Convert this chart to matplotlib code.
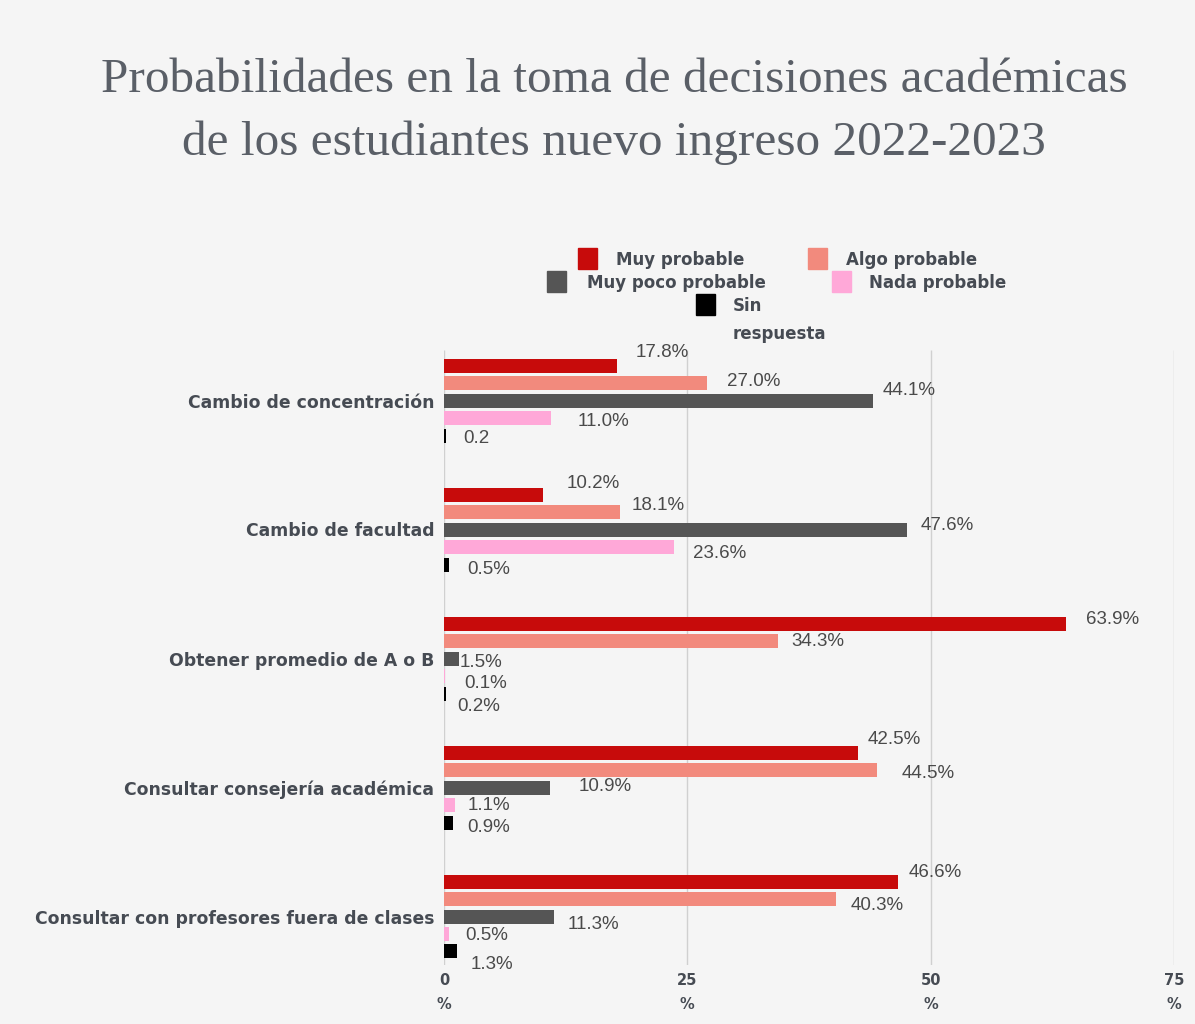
import matplotlib
matplotlib.use("Agg")
import matplotlib.pyplot as plt
import numpy as np
from matplotlib.patches import Rectangle
from matplotlib import font_manager

categories = [
    "Cambio de concentración",
    "Cambio de facultad",
    "Obtener promedio de A o B",
    "Consultar consejería académica",
    "Consultar con profesores fuera de clases",
]
series_names = ["Muy probable", "Algo probable", "Muy poco probable", "Nada probable", "Sin respuesta"]
muy_probable = [17.8, 10.2, 63.9, 42.5, 46.6]
algo_probable = [27.0, 18.1, 34.3, 44.5, 40.3]
muy_poco_probable = [44.1, 47.6, 1.5, 10.9, 11.3]
nada_probable = [11.0, 23.6, 0.1, 1.1, 0.5]
sin_respuesta = [0.2, 0.5, 0.2, 0.9, 1.3]
label_texts = [
    ["17.8%", "10.2%", "63.9%", "42.5%", "46.6%"],
    ["27.0%", "18.1%", "34.3%", "44.5%", "40.3%"],
    ["44.1%", "47.6%", "1.5%", "10.9%", "11.3%"],
    ["11.0%", "23.6%", "0.1%", "1.1%", "0.5%"],
    ["0.2", "0.5%", "0.2%", "0.9%", "1.3%"],
]
x_ticks = [0, 25, 50, 75]
x_tick_labels = ["0\n%", "25\n%", "50\n%", "75\n%"]

# label placement offsets (pixels, relative to bar end / bar centre) - layout only
label_dx = [
    [18, 23, 20, 10, 11],
    [20, 11, 13, 24, 14],
    [9, 13, 1, 29, 14],
    [27, 19, 19, 13, 16],
    [17, 18, 11, 14, 14],
]
label_dy = [
    [-13, -11, -4, -13, -9],
    [-2, -6, 1, 4, 7],
    [-10, -4, 4, -1, 8],
    [4, 6, 8, 0, 1],
    [3, 5, 13, 5, 13],
]

colors = ["#c70b0b", "#f28a7d", "#555555", "#ffa8d8", "#000000"]
bg = "#f5f5f5"
text_col = "#464b53"

installed = {f.name for f in font_manager.fontManager.ttflist}
label_family = "Liberation Sans Narrow" if "Liberation Sans Narrow" in installed else "Liberation Sans"
label_size = 15.5 if label_family == "Liberation Sans Narrow" else 13.5

W, H = 1195, 1024
fig = plt.figure(figsize=(W / 100, H / 100), dpi=100, facecolor=bg)

left, right, top, bottom = 444, 1174, 336, 965
ax = fig.add_axes([left / W, 1 - bottom / H, (right - left) / W, (bottom - top) / H])
ax.set_facecolor(bg)

series = [muy_probable, algo_probable, muy_poco_probable, nada_probable, sin_respuesta]
n_cat = len(categories)
group_px = 129.0
bar_step = 17.5 / group_px
bar_h = 14.0 / group_px
y_centers = np.arange(n_cat)
for si, vals in enumerate(series):
    ys = y_centers + (si - 2) * bar_step
    ax.barh(ys, vals, height=bar_h, color=colors[si], zorder=3)
    for ci, (v, y) in enumerate(zip(vals, ys)):
        ax.annotate(label_texts[si][ci], xy=(v, y),
                    xytext=(label_dx[si][ci] * 0.72, -label_dy[si][ci] * 0.72),
                    textcoords="offset points",
                    ha="left", va="center", fontsize=label_size, color="#4a4a4a",
                    family=label_family, zorder=4)

ax.set_xlim(0, 75)
ax.set_ylim(-0.5 + (bottom - top) / group_px, -0.5)
ax.set_yticks(y_centers)
ax.set_yticklabels(categories, fontsize=12.4, fontweight="bold", color=text_col)
ax.set_xticks(x_ticks)
ax.set_xticklabels(x_tick_labels, fontsize=10.5, fontweight="bold", color=text_col, linespacing=1.7)
ax.tick_params(axis="y", length=0, pad=7)
ax.tick_params(axis="x", length=0, pad=6)
grid_top = (bottom - 350) / (bottom - top)
ax.vlines(x_ticks, 0, grid_top, transform=ax.get_xaxis_transform(),
          color="#d0d0d0", linewidth=1, zorder=0)
for s in ["top", "right", "bottom", "left"]:
    ax.spines[s].set_visible(False)

# Title
title_kw = dict(ha="center", va="center", fontsize=35.5, family="Liberation Serif", color="#5a5f67")
fig.text(614 / W, 1 - 80 / H, "Probabilidades en la toma de decisiones académicas", **title_kw)
fig.text(614 / W, 1 - 143 / H, "de los estudiantes nuevo ingreso 2022-2023", **title_kw)

# Legend (manual, matching the original arrangement)
def leg_item(xsq, y, color, lines, xtxt):
    sw, sh = 19, 21
    fig.patches.append(Rectangle((xsq / W, 1 - (y + sh / 2) / H), sw / W, sh / H,
                                 transform=fig.transFigure, color=color, figure=fig))
    for k, ln in enumerate(lines):
        fig.text(xtxt / W, 1 - (y + 2 + k * 28) / H, ln, ha="left", va="center",
                 fontsize=12, fontweight="bold", color=text_col)

leg_item(578, 258, colors[0], [series_names[0]], 616)
leg_item(808, 258, colors[1], [series_names[1]], 846)
leg_item(547, 281, colors[2], [series_names[2]], 587)
leg_item(832, 281, colors[3], [series_names[3]], 869)
leg_item(696, 304, colors[4], ["Sin", "respuesta"], 733)

fig.savefig("out.png", dpi=100, facecolor=bg)
